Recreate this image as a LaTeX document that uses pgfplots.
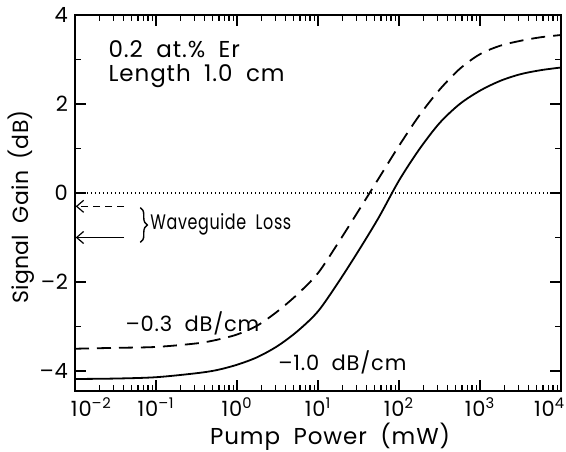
\documentclass[border=0pt]{standalone}
\usepackage{pgfplots}
\pgfplotsset{compat=1.18}
\usepackage{fontspec}
\setmainfont{Poppins}[WordSpace=1.9, LetterSpace=4]
\usetikzlibrary{decorations.pathreplacing,arrows.meta}

\begin{document}
\begin{tikzpicture}
\begin{axis}[
  name=ax,
  xmode=log,
  scale only axis,
  width=243pt, height=188pt,
  xmin=0.01, xmax=10000,
  ymin=-4.45, ymax=4,
  xtick={0.01,0.1,1,10,100,1000,10000},
  xticklabels={\makebox[0pt][l]{\hspace{-2pt}10\textsuperscript{–2}},
    10\textsuperscript{–1},10\textsuperscript{0},10\textsuperscript{1},
    10\textsuperscript{2},10\textsuperscript{3},
    \makebox[0pt][r]{10\textsuperscript{4}\hspace{-2pt}}},
  minor xtick={0.02,0.03,0.04,0.05,0.06,0.07,0.08,0.09,
    0.2,0.3,0.4,0.5,0.6,0.7,0.8,0.9,
    2,3,4,5,6,7,8,9,
    20,30,40,50,60,70,80,90,
    200,300,400,500,600,700,800,900,
    2000,3000,4000,5000,6000,7000,8000,9000},
  ytick={-4,-2,0,2,4},
  yticklabels={–4,–2,0,2,4},
  minor ytick={-3,-1,1,3},
  tick align=inside,
  major tick length=5.5pt,
  minor tick length=3pt,
  axis line style={line width=1.1pt},
  every tick/.style={black, line width=0.7pt},
  tick label style={font=\fontsize{10.5}{12}\selectfont},
  xlabel style={font=\fontsize{11.5}{13}\selectfont, at={(axis description cs:0.525,-0.1225)}, anchor=center},
  ylabel style={font=\fontsize{11}{13}\selectfont\addfontfeatures{LetterSpace=1}, at={(axis description cs:-0.111,0.49)}, anchor=center},
  xlabel={Pump Power (mW)},
  ylabel={Signal Gain (dB)},
  clip=false,
]
% 0 dB reference
\addplot[black, line width=0.8pt, dash pattern=on 0.7pt off 1.3pt] coordinates {(0.01,0) (10000,0)};

% -0.3 dB/cm waveguide loss
\addplot[black, line width=0.9pt, dash pattern=on 7pt off 4pt, smooth] coordinates {
  (0.01,-3.50) (0.03162,-3.48) (0.1,-3.46) (0.3162,-3.38) (0.5623,-3.30)
  (1,-3.18) (1.778,-2.98) (3.162,-2.66) (5.623,-2.27) (10,-1.80)
  (17.78,-1.12) (31.62,-0.40) (56.23,0.33) (100,1.06) (177.8,1.74)
  (316.2,2.32) (562.3,2.79) (1000,3.12) (1778,3.31) (3162,3.42)
  (5623,3.50) (10000,3.55)
};
% -1.0 dB/cm waveguide loss
\addplot[black, line width=0.9pt, smooth] coordinates {
  (0.01,-4.18) (0.03162,-4.17) (0.1,-4.14) (0.3162,-4.05) (0.5623,-3.98)
  (1,-3.86) (1.778,-3.69) (3.162,-3.44) (5.623,-3.10) (10,-2.66)
  (17.78,-2.01) (31.62,-1.30) (56.23,-0.55) (100,0.28) (177.8,0.98)
  (316.2,1.57) (562.3,2.00) (1000,2.30) (1778,2.52) (3162,2.67)
  (5623,2.76) (10000,2.82)
};

\node[anchor=west, inner sep=0pt, font=\fontsize{11.5}{13}\selectfont] at (axis cs:0.0257,3.24) {0.2 at.\% Er};
\node[anchor=west, inner sep=0pt, font=\fontsize{11.5}{13}\selectfont] at (axis cs:0.0257,2.63) {Length 1.0 cm};
\node[anchor=west, inner sep=0pt, font=\fontsize{10.5}{12}\selectfont] at (axis cs:0.0843,-0.71)
  {\scalebox{0.76}[1]{Waveguide Loss}};
\node[anchor=west, inner sep=0pt, font=\fontsize{10.5}{12}\selectfont] at (axis cs:0.0417,-2.94) {–0.3 dB/cm};
\node[anchor=west, inner sep=0pt, font=\fontsize{10.5}{12}\selectfont] at (axis cs:3.2,-3.80) {–1.0 dB/cm};

\draw[black, line width=0.6pt, dash pattern=on 3.5pt off 2.5pt, -{Straight Barb[length=3.5pt,width=6pt]}]
  (axis cs:0.0403,-0.3) -- (axis cs:0.0102,-0.3);
\draw[black, line width=0.6pt, -{Straight Barb[length=3.5pt,width=6pt]}]
  (axis cs:0.0403,-1.0) -- (axis cs:0.0102,-1.0);
\draw[black, line width=0.7pt, decorate, decoration={brace, amplitude=3.5pt}]
  (axis cs:0.064,-0.33) -- (axis cs:0.064,-1.11);
\end{axis}
\pgfresetboundingbox
\path ([xshift=-37.5pt,yshift=-30.15pt]ax.south west) rectangle ([xshift=2.5pt,yshift=7.5pt]ax.north east);
\end{tikzpicture}
\end{document}
